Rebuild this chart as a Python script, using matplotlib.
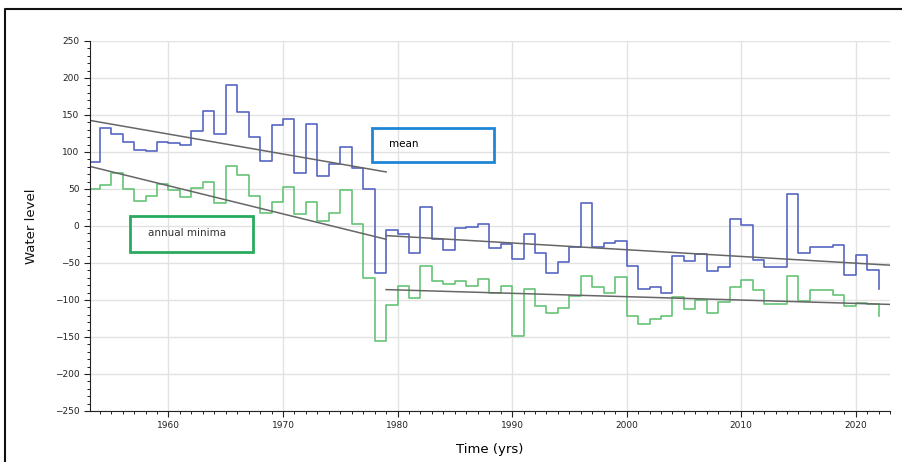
import matplotlib
matplotlib.use('Agg')
import matplotlib.pyplot as plt
from matplotlib.ticker import MultipleLocator
from matplotlib.patches import Rectangle
from matplotlib.lines import Line2D

# yearly values, 1953 .. 2022
years = list(range(1953, 2023))
mean_level = [86, 132, 124, 114, 103, 101, 114, 112, 110, 128,
              156, 124, 191, 154, 120, 88, 136, 144, 71, 138,
              68, 84, 107, 78, 50, -63, -5, -11, -37, 25,
              -18, -32, -3, -1, 2, -30, -25, -45, -11, -36,
              -64, -49, -29, 31, -29, -23, -20, -54, -85, -83,
              -91, -41, -48, -38, -61, -56, 9, 1, -46, -55,
              -55, 43, -37, -29, -29, -26, -66, -39, -60, -85]
annual_min = [50, 55, 72, 50, 34, 40, 57, 49, 39, 51,
              59, 31, 81, 69, 40, 17, 33, 53, 16, 33,
              7, 17, 49, 3, -70, -156, -107, -81, -97, -54,
              -75, -78, -75, -81, -72, -90, -81, -148, -85, -108,
              -118, -111, -95, -68, -82, -90, -69, -122, -132, -126,
              -122, -96, -112, -100, -118, -103, -83, -73, -86, -106,
              -106, -68, -102, -87, -87, -93, -108, -104, -105, -121]

# fitted trends (start year, start value, end year, end value)
mean_trend = [(1953, 143, 1979, 73), (1979, -13, 2023, -53)]
min_trend = [(1953, 81, 1979, -18), (1979, -86, 2023, -106)]

fig = plt.figure(figsize=(9.02, 4.62), dpi=100)
ax = fig.add_axes([0.0998, 0.1104, 0.887, 0.801])

ax.step(years, mean_level, where='post', color='#5566c4', lw=1.2)
ax.step(years, annual_min, where='post', color='#66c477', lw=1.2)

for x0, y0, x1, y1 in mean_trend + min_trend:
    ax.plot([x0, x1], [y0, y1], color='#666666', lw=1.1)

ax.set_xlim(1953.15, 2023.0)
ax.set_ylim(-250, 250)
ax.xaxis.set_major_locator(MultipleLocator(10))
ax.xaxis.set_minor_locator(MultipleLocator(1))
ax.yaxis.set_major_locator(MultipleLocator(50))
ax.yaxis.set_minor_locator(MultipleLocator(10))
ax.grid(True, which='major', color='#e2e2e2', lw=1)
ax.set_axisbelow(True)
for s in ['top', 'right']:
    ax.spines[s].set_visible(False)
for s in ['left', 'bottom']:
    ax.spines[s].set_color('#222222')
ax.tick_params(which='major', length=4, width=0.8, labelsize=6.5, colors='#222222')
ax.tick_params(which='minor', length=2.5, width=0.7, colors='#222222')

ax.set_xlabel('Time (yrs)', fontsize=9.5, labelpad=9)
ax.set_ylabel('Water level', fontsize=9.5, labelpad=12, color='#111111')

# label boxes
fig.patches.append(Rectangle((372 / 902, 1 - 162 / 462), 122 / 902, 34 / 462,
                             transform=fig.transFigure, fill=False,
                             edgecolor='#1f86d6', lw=2))
fig.text(389 / 902, 1 - 144 / 462, 'mean', fontsize=7.5, va='center')
fig.patches.append(Rectangle((130 / 902, 1 - 252 / 462), 123 / 902, 36 / 462,
                             transform=fig.transFigure, fill=False,
                             edgecolor='#2aaa5e', lw=2))
fig.text(148 / 902, 1 - 233 / 462, 'annual minima', fontsize=7.5, va='center',
         color='#333333')

# outer frame (top and left)
fig.lines.append(Line2D([5 / 902, 5 / 902, 1], [0, 1 - 9 / 462, 1 - 9 / 462],
                        transform=fig.transFigure, color='#111111', lw=1.5))

fig.savefig('out.png', dpi=100)
